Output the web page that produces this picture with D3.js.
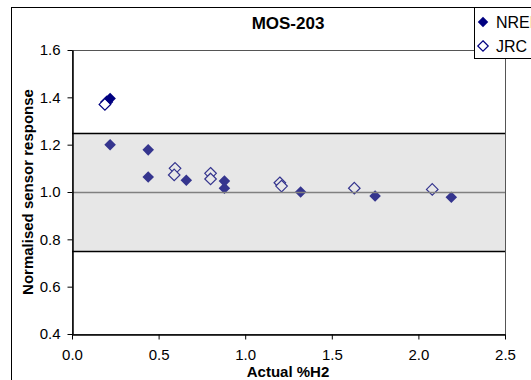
<!DOCTYPE html>
<html>
<head>
<meta charset="utf-8">
<script src="https://cdn.jsdelivr.net/npm/d3@7"></script>
<style>
  body { margin: 0; background: #fff; }
  text { font-family: "Liberation Sans", Arial, sans-serif; }
</style>
</head>
<body>
<div id="chart"></div>
<script>
// NREL series (filled diamonds)
const nrelX = [0.22, 0.22, 0.44, 0.44, 0.66, 0.88, 0.88, 1.32, 1.75, 2.19];
const nrelY = [1.395, 1.20, 1.178, 1.063, 1.05, 1.046, 1.016, 1.00, 0.983, 0.978];
// JRC series (open diamonds)
const jrcX = [0.20, 0.19, 0.595, 0.59, 0.80, 0.80, 1.20, 1.21, 1.63, 2.08];
const jrcY = [1.38, 1.37, 1.10, 1.072, 1.079, 1.055, 1.039, 1.025, 1.016, 1.011];

const xTicks = [0, 0.5, 1.0, 1.5, 2.0, 2.5];
const yTicks = [0.4, 0.6, 0.8, 1.0, 1.2, 1.4, 1.6];
const band = [0.75, 1.25];   // tolerance band
const target = 1.0;

const W = 531, H = 380;
const plot = {left: 72, right: 505, top: 50, bottom: 334};

const svg = d3.select('#chart').append('svg')
  .attr('width', W)
  .attr('height', H);

// outer chart border
svg.append('rect')
  .attr('x', 11.5).attr('y', 7.5)
  .attr('width', 600).attr('height', 500)
  .attr('fill', '#fff')
  .attr('stroke', '#000');

const x = d3.scaleLinear().domain([0, 2.5]).range([plot.left, plot.right]);
const y = d3.scaleLinear().domain([0.4, 1.6]).range([plot.bottom, plot.top]);

// plot area border
svg.append('rect')
  .attr('x', plot.left + 0.5).attr('y', y(1.6) + 0.5)
  .attr('width', plot.right - plot.left).attr('height', plot.bottom - plot.top)
  .attr('fill', '#fff')
  .attr('stroke', '#555');

const diamond = d3.symbol().type(d3.symbolDiamond2).size(85);

const nrel = nrelX.map((v, i) => ({x: v, y: nrelY[i]}));
const jrc = jrcX.map((v, i) => ({x: v, y: jrcY[i]}));

// JRC first, NREL on top
svg.append('g')
  .attr('class', 'jrc')
  .selectAll('path')
  .data(jrc)
  .enter().append('path')
    .attr('d', diamond)
    .attr('transform', d => 'translate(' + x(d.x) + ',' + y(d.y) + ')')
    .attr('fill', '#fff')
    .attr('stroke', '#000080')
    .attr('stroke-width', 1.2);

svg.append('g')
  .attr('class', 'nrel')
  .selectAll('path')
  .data(nrel)
  .enter().append('path')
    .attr('d', diamond)
    .attr('transform', d => 'translate(' + x(d.x) + ',' + y(d.y) + ')')
    .attr('fill', '#000080');

// grey band drawn over the markers (semi transparent)
svg.append('rect')
  .attr('x', plot.left)
  .attr('y', y(band[1]))
  .attr('width', plot.right - plot.left)
  .attr('height', y(band[0]) - y(band[1]))
  .attr('fill', '#b0b0b0')
  .attr('fill-opacity', 0.3);

// band edges and target line
svg.append('g')
  .selectAll('line')
  .data(band)
  .enter().append('line')
    .attr('x1', plot.left).attr('x2', plot.right)
    .attr('y1', d => Math.round(y(d)) + 0.5)
    .attr('y2', d => Math.round(y(d)) + 0.5)
    .attr('stroke', '#000')
    .attr('stroke-width', 1.5);

svg.append('line')
  .attr('x1', plot.left).attr('x2', plot.right)
  .attr('y1', Math.round(y(target)) + 0.5)
  .attr('y2', Math.round(y(target)) + 0.5)
  .attr('stroke', '#808080')
  .attr('stroke-width', 1.5);

// axes
const xAxis = d3.axisBottom(x)
  .tickValues(xTicks)
  .tickFormat(d3.format('.1f'))
  .tickSizeInner(5)
  .tickSizeOuter(0)
  .tickPadding(10);

const yAxis = d3.axisLeft(y)
  .tickValues(yTicks)
  .tickFormat(d3.format('.1f'))
  .tickSizeInner(5)
  .tickSizeOuter(0)
  .tickPadding(7);

const gx = svg.append('g')
  .attr('class', 'axis axis--x')
  .attr('transform', 'translate(0,' + (plot.bottom + 0.5) + ')')
  .call(xAxis);

const gy = svg.append('g')
  .attr('class', 'axis axis--y')
  .attr('transform', 'translate(' + (plot.left + 0.5) + ',0)')
  .call(yAxis);

[gx, gy].forEach(g => {
  g.select('.domain').attr('stroke', '#000').attr('stroke-width', 1.5);
  g.selectAll('.tick line').attr('stroke', '#000');
  g.selectAll('.tick text')
    .attr('fill', '#000')
    .style('font-size', '15px')
    .style('font-family', '"Liberation Sans", Arial, sans-serif');
});

// titles
svg.append('text')
  .attr('x', 288).attr('y', 29)
  .attr('text-anchor', 'middle')
  .style('font-size', '17px')
  .style('font-weight', 'bold')
  .text('MOS-203');

svg.append('text')
  .attr('x', 288).attr('y', 377)
  .attr('text-anchor', 'middle')
  .style('font-size', '15px')
  .style('font-weight', 'bold')
  .text('Actual %H2');

svg.append('text')
  .attr('transform', 'translate(33,' + y(1.0) + ') rotate(-90)')
  .attr('text-anchor', 'middle')
  .style('font-size', '15px')
  .style('font-weight', 'bold')
  .text('Normalised sensor response');

// legend
const legendNames = ['NREL', 'JRC'];
const legendG = svg.append('g')
  .attr('class', 'legends')
  .attr('transform', 'translate(474,7)');

legendG.append('rect')
  .attr('x', 0.5).attr('y', 0.5)
  .attr('width', 100).attr('height', 51)
  .attr('fill', '#fff')
  .attr('stroke', '#000');

const legends = legendG.selectAll('g.legend')
  .data(legendNames)
  .enter().append('g')
    .attr('class', 'legend')
    .attr('transform', (d, i) => 'translate(9,' + (15 + i * 24) + ')');

legends.append('path')
  .attr('d', d3.symbol().type(d3.symbolDiamond2).size(70))
  .attr('fill', (d, i) => i === 0 ? '#000080' : '#fff')
  .attr('stroke', '#000080')
  .attr('stroke-width', (d, i) => i === 0 ? 0 : 1.2);

legends.append('text')
  .attr('x', 13).attr('y', 6)
  .style('font-size', '16px')
  .text(d => d);
</script>
</body>
</html>
